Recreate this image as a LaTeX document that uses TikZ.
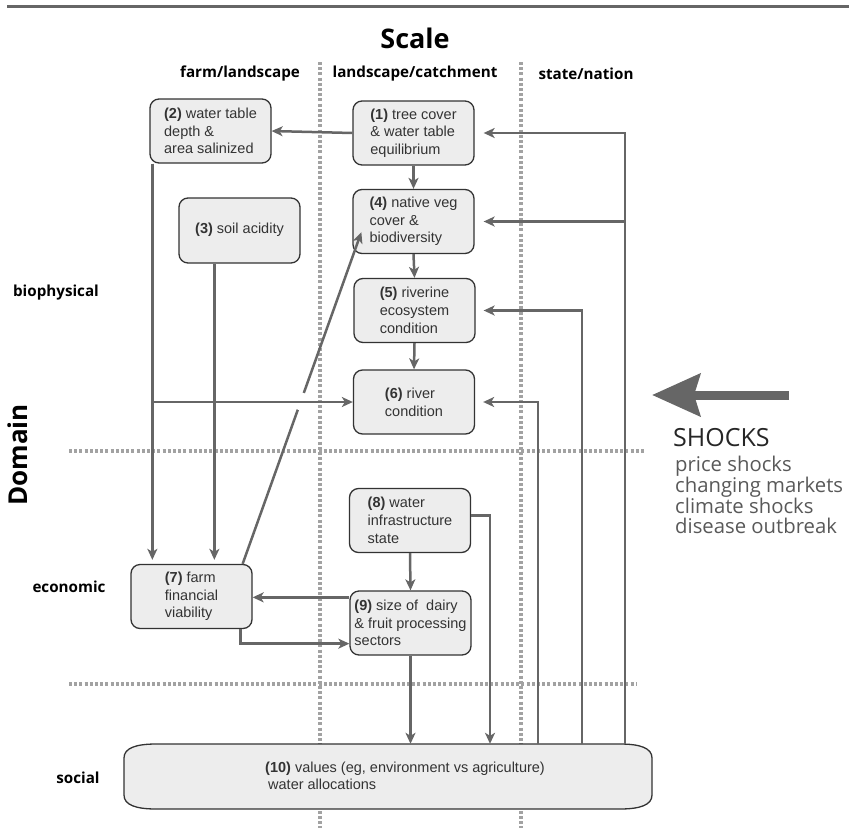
\documentclass[tikz,border=0pt]{standalone}
\usepackage{fontspec}
\setmainfont{Liberation Sans}
\newfontfamily\labelfont{Open Sans}
\usetikzlibrary{arrows.meta,calc}
\definecolor{lineg}{HTML}{666666}
\definecolor{dotg}{HTML}{A2A2A2}
\definecolor{boxfill}{HTML}{EDEDED}
\definecolor{boxline}{HTML}{333333}
\definecolor{txt}{HTML}{333333}
\begin{document}
\begin{tikzpicture}[x=1pt,y=-1pt,
  box/.style={draw=boxline, fill=boxfill, line width=1.3pt, rounded corners=9pt,
    minimum width=121pt, minimum height=64pt, inner sep=0pt, align=left, text=txt,
    font=\fontsize{14.5}{17.7}\selectfont},
  conn/.style={draw=lineg, line width=2.5pt, -{Stealth[length=11pt,width=10pt,inset=3pt]}},
  gridline/.style={draw=dotg, line width=4pt, dash pattern=on 3pt off 2.2pt},
  colhead/.style={font=\labelfont\bfseries\fontsize{15.2}{18}\selectfont, text=black},
  rowhead/.style={font=\labelfont\bfseries\fontsize{15.2}{18}\selectfont, text=black},
]
\useasboundingbox (0,0) rectangle (849,828);

% rule across the top
\draw[draw=lineg, line width=3pt] (7,6) -- (849,6);

% headings
\node[font=\labelfont\bfseries\fontsize{27}{30}\selectfont] (scale) at (415,38) {Scale};
\node[colhead] (hfarm) at (240,74) {farm/landscape};
\node[colhead] (hland) at (415,74) {landscape/catchment};
\node[colhead] (hstate) at (586,74) {state/nation};
\node[rowhead] (hbio) at (56,293) {biophysical};
\node[rowhead] (heco) at (69,587) {economic};
\node[rowhead] (hsoc) at (78,778) {social};
\node[font=\labelfont\bfseries\fontsize{26}{30}\selectfont, rotate=90] (hdom) at (18,455) {Domain};

% dotted grid
\draw[gridline] (320,62) -- (320,828);
\draw[gridline] (521,62) -- (521,828);
\draw[gridline] (69,451) -- (645,451);
\draw[gridline] (69,684) -- (637,684);

% boxes
\node[box] (n1) at (413.5,133) {\textbf{(1)} tree cover\\\& water table\\equilibrium};
\node[box] (n2) at (210.5,131) {\textbf{(2)} water table\\depth \&\\area salinized};
\node[box, minimum height=65pt] (n3) at (239.5,230.5) {\textbf{(3)} soil acidity\rule[-4pt]{0pt}{1pt}};
\node[box] (n4) at (413.5,221.5) {\textbf{(4)} native veg\\cover \&\\biodiversity};
\node[box] (n5) at (414.5,310.5) {\textbf{(5)} riverine\\ecosystem\\condition};
\node[box] (n6) at (414,402) {\textbf{(6)} river\\condition};
\node[box] (n7) at (191.5,596.5) {\textbf{(7)} farm\\financial\\viability};
\node[box] (n8) at (410,520.5) {\textbf{(8)} water\\infrastructure\\state};
\node[box] (n9) at (410.5,623) {\textbf{(9)} size of\ \ dairy\\\& fruit processing\\sectors};

% wide box with elliptic ends
\node[minimum width=528pt, minimum height=65pt, inner sep=0pt] (n10) at (388,776.5) {};
\draw[draw=boxline, fill=boxfill, line width=1.3pt]
  (156,744) -- (620,744) .. controls (640,744) and (652,748) .. (652,758)
  -- (652,795) .. controls (652,805) and (640,809) .. (620,809)
  -- (156,809) .. controls (136,809) and (124,805) .. (124,795)
  -- (124,758) .. controls (124,748) and (136,744) .. (156,744) -- cycle;
\node[anchor=west, align=left, inner sep=0pt, text=txt, font=\fontsize{14.5}{17}\selectfont] (t10) at (265,776)
  {\textbf{(10)} values (eg, environment vs agriculture)\\\hspace*{3pt}water allocations};

% biophysical chain
\draw[conn] (n1.west) -- (n2.east);
\draw[conn] (n1.south) -- (n4.north);
\draw[conn] (n4.south) -- (n5.north);
\draw[conn] (n5.south) -- (n6.north);

% farm level down to (7), with the diagonal back to (4)
\draw[conn] ([xshift=-10pt]n7.north east) -- ([xshift=9pt,yshift=22pt]n4.south west)
  coordinate[pos=0.465] (g1) coordinate[pos=0.515] (g2);
\draw[white, line width=6pt] (g1) -- (g2);
\draw[conn, shorten >=4pt] ([xshift=3pt]n2.south west) -- ([xshift=3pt]n2.south west |- n7.north);
\draw[conn] ([xshift=3pt]n2.south west) |- (n6.west);
\draw[conn, shorten >=4pt] ([xshift=36pt]n3.south west) -- ([xshift=36pt]n3.south west |- n7.north);

% economic links
\draw[conn] (n8.south) -- (n9.north);
\draw[conn] ([yshift=-7pt]n9.north west) -- ([yshift=-7pt]n9.north west -| n7.east);
\draw[conn] ([xshift=-12pt]n7.south east) |- ([yshift=12pt]n9.south west);
\draw[conn] (n9.south) -- (n9.south |- n10.north);
\draw[conn] ([yshift=5pt]n8.east) -| (490,0 |- n10.north);

% feedback from (10) at state/nation scale
\draw[conn, shorten >=9pt] (625,0 |- n10.north) |- (n1.east);
\draw[conn, shorten >=9pt] (625,0 |- n10.north) |- (n4.east);
\draw[conn, shorten >=8pt] (582,0 |- n10.north) |- (n5.east);
\draw[conn, shorten >=8pt] (538,0 |- n10.north) |- (n6.east);

% shocks
\coordinate (sa) at (789,395);
\coordinate (sb) at (652,395);
\draw[draw=lineg, line width=9pt, -{Stealth[length=48pt,width=42pt,inset=6pt]}] (sa) -- (sb);
\node[anchor=west, inner sep=0pt, font=\labelfont\fontsize{25}{27}\selectfont, text=black!85] (shk) at (673,438) {SHOCKS};
\node[anchor=north west, align=left, inner sep=0pt, font=\labelfont\fontsize{20.3}{20.7}\selectfont, text=black!65] (shl) at (675,456)
  {price shocks\\changing markets\\climate shocks\\disease outbreak};
\end{tikzpicture}
\end{document}
